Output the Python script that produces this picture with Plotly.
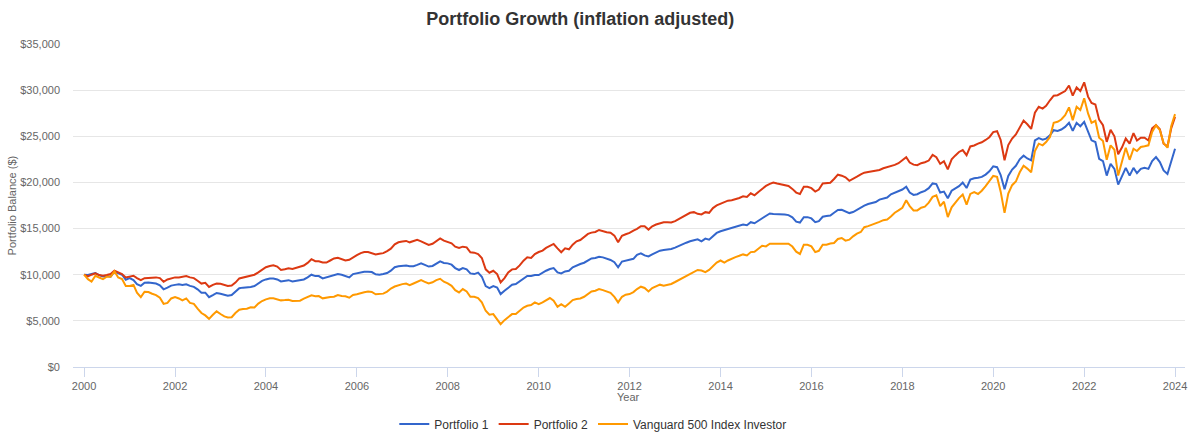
import pandas as pd
import plotly.graph_objects as go

# Monthly balances, start of Jan 2000 through end of Dec 2023 (289 points)
dates = pd.date_range("2000-01-01", periods=289, freq="MS")

portfolio_1 = [
    10000, 9960, 10070, 10180, 9960, 9820, 9850, 9780, 10330, 10180, 10000, 9450,
    9630, 9410, 8970, 8790, 9120, 9150, 9120, 9040, 8860, 8420, 8600, 8820,
    8900, 8970, 8900, 8970, 8790, 8680, 8420, 8050, 8050, 7570, 7790, 8020,
    7940, 7790, 7720, 7790, 8160, 8530, 8600, 8600, 8680, 8770, 9070, 9340,
    9490, 9600, 9600, 9490, 9270, 9340, 9410, 9270, 9340, 9410, 9490, 9710,
    10000, 9850, 9850, 9600, 9710, 9850, 10000, 10070, 10000, 9890, 9710, 10070,
    10150, 10260, 10330, 10330, 10290, 10040, 10000, 10070, 10180, 10440, 10810, 10920,
    10990, 10990, 10920, 10920, 11060, 11240, 11060, 10880, 10950, 11170, 11440, 11270,
    11230, 11090, 10720, 10510, 10720, 10580, 10140, 10070, 10220, 9780, 8770, 8550,
    8770, 8620, 7900, 8260, 8620, 8910, 8990, 9280, 9570, 9860, 9860, 9960,
    9960, 10250, 10430, 10620, 10720, 10250, 10140, 10360, 10430, 10800, 11010, 11160,
    11300, 11520, 11770, 11810, 11950, 11880, 11740, 11600, 11350, 10810, 11430, 11540,
    11610, 11720, 12160, 12310, 12090, 11980, 12200, 12420, 12600, 12670, 12710, 12780,
    12930, 13140, 13250, 13470, 13620, 13730, 13840, 13620, 13910, 13800, 14160, 14530,
    14710, 14820, 14960, 15070, 15180, 15290, 15440, 15360, 15690, 15580, 15870, 16090,
    16420, 16640, 16570, 16570, 16600, 16530, 16460, 16220, 15750, 15650, 16240, 16240,
    16100, 15690, 15800, 16280, 16350, 16420, 16720, 17010, 17040, 16900, 16680, 16790,
    17040, 17260, 17480, 17660, 17770, 17880, 18140, 18250, 18360, 18720, 18870, 19050,
    19230, 19530, 18900, 18650, 18720, 18940, 19090, 19380, 19890, 19820, 18900, 19010,
    18280, 19100, 19300, 19600, 20000, 19400, 20300, 20450, 20500, 20600, 20850, 21200,
    21750, 21650, 20800, 19250, 20700, 21400, 21800, 22500, 22900, 22600, 22400, 24550,
    24800, 24640, 24750, 25110, 25660, 25580, 25730, 26020, 26460, 25580, 26460, 26090,
    26570, 25580, 24560, 24380, 22560, 22310, 20740, 22020, 21470, 19760, 20740, 21580,
    20740, 21580, 21000, 21470, 21580, 21470, 22310, 22740, 22200, 21290, 20920, 22380,
    23650,
]

portfolio_2 = [
    10000, 9820, 10000, 10150, 9960, 9890, 9960, 10070, 10440, 10260, 10070, 9710,
    9780, 9890, 9630, 9410, 9630, 9670, 9710, 9710, 9630, 9230, 9490, 9630,
    9710, 9710, 9780, 9850, 9710, 9630, 9340, 9040, 9120, 8680, 8900, 9040,
    9010, 8900, 8790, 8820, 9150, 9600, 9710, 9740, 9890, 10000, 10250, 10510,
    10810, 10950, 11020, 10880, 10510, 10590, 10700, 10620, 10770, 10880, 10990, 11280,
    11680, 11460, 11460, 11320, 11320, 11540, 11760, 11830, 11720, 11540, 11610, 11900,
    12120, 12340, 12450, 12450, 12340, 12200, 12270, 12340, 12560, 12820, 13290, 13510,
    13590, 13660, 13510, 13660, 13770, 13620, 13440, 13220, 13350, 13640, 13940, 13690,
    13550, 13400, 13040, 12900, 13040, 12970, 12430, 12390, 12240, 11810, 10580, 10220,
    10430, 10070, 9170, 9640, 10250, 10580, 10620, 11010, 11520, 11880, 11810, 12240,
    12460, 12610, 12900, 13150, 13330, 12860, 12430, 12860, 12750, 13260, 13620, 13760,
    14130, 14420, 14560, 14630, 14850, 14710, 14600, 14550, 14240, 13510, 14220, 14380,
    14530, 14780, 14960, 15250, 15250, 14890, 15250, 15440, 15580, 15690, 15690, 15660,
    15800, 16020, 16240, 16490, 16710, 16780, 16600, 16530, 16780, 16710, 17220, 17510,
    17690, 17840, 18020, 18060, 18170, 18310, 18490, 18420, 18820, 18600, 18970, 19300,
    19620, 19840, 19990, 19880, 19800, 19730, 19620, 19300, 18900, 18750, 19530, 19530,
    19380, 19010, 19230, 19890, 19890, 19960, 20370, 20840, 20730, 20550, 20180, 20370,
    20620, 20880, 21060, 21130, 21200, 21280, 21350, 21530, 21640, 21750, 21900, 22080,
    22450, 22740, 22150, 21930, 21860, 22080, 22190, 22370, 22990, 22740, 22010, 22300,
    21420, 22500, 22900, 23300, 23500, 22950, 23900, 24000, 24200, 24350, 24600, 24900,
    25450, 25550, 24600, 22400, 24050, 24750, 25200, 26000, 26700, 26300, 25800, 27550,
    28200, 28000, 28300, 28900, 29400, 29450, 29700, 29900, 30500, 29400, 30300, 29900,
    30850, 29300, 28600, 28450, 26800, 26200, 24400, 25700, 25000, 23050, 23800, 24750,
    24200, 25350, 24550, 24850, 24850, 24550, 25850, 26200, 25750, 24200, 23900, 25850,
    27100,
]

vanguard_500 = [
    10000, 9520, 9265, 9890, 9700, 9520, 9780, 9780, 10370, 9700, 9520, 8790,
    8790, 8900, 8050, 7570, 8160, 8120, 7940, 7790, 7500, 6840, 6950, 7430,
    7570, 7430, 7210, 7430, 6950, 6840, 6320, 5850, 5590, 5220, 5660, 6030,
    5740, 5480, 5370, 5400, 5850, 6210, 6290, 6320, 6480, 6450, 6870, 7150,
    7330, 7440, 7440, 7290, 7220, 7250, 7290, 7150, 7150, 7180, 7400, 7620,
    7770, 7660, 7690, 7440, 7470, 7580, 7620, 7800, 7690, 7660, 7510, 7800,
    7880, 8020, 8100, 8170, 8130, 7880, 7880, 7950, 8170, 8500, 8720, 8870,
    8980, 9050, 8870, 9050, 9270, 9410, 9230, 9050, 9180, 9420, 9560, 9240,
    9060, 8800, 8330, 8080, 8440, 8190, 7610, 7610, 7470, 7000, 6090, 5660,
    5730, 5190, 4640, 5080, 5440, 5730, 5730, 6090, 6450, 6630, 6710, 7000,
    6810, 7000, 7250, 7470, 7180, 6520, 6810, 6520, 6890, 7250, 7360, 7430,
    7610, 7970, 8190, 8260, 8440, 8330, 8190, 8030, 7600, 7000, 7610, 7830,
    7900, 8120, 8450, 8700, 8560, 8190, 8560, 8780, 8920, 8810, 8920, 9000,
    9210, 9430, 9650, 9870, 10010, 10270, 10520, 10450, 10270, 10520, 10890, 11320,
    11540, 11320, 11540, 11760, 11910, 12050, 12200, 12090, 12450, 12490, 12850, 13140,
    13070, 13360, 13360, 13360, 13360, 13430, 13360, 13050, 12500, 12250, 13250, 13250,
    13070, 12450, 12590, 13250, 13250, 13390, 13430, 13870, 13980, 13690, 13800, 14160,
    14450, 14630, 15150, 15260, 15400, 15510, 15730, 15910, 15990, 16310, 16720, 16970,
    17260, 18070, 17440, 16970, 16970, 17260, 17370, 17810, 18430, 18610, 17440, 17920,
    16250, 17300, 17800, 18300, 18700, 17600, 18750, 18950, 18750, 19100, 19600, 20200,
    20700, 20600, 19000, 16700, 18800, 19700, 20100, 21100, 21800, 21500, 21100, 23400,
    24200, 24020, 24380, 24930, 26460, 26570, 26820, 27290, 28130, 26750, 28200, 27840,
    29110, 27480, 26460, 26680, 24850, 24490, 22450, 24020, 23540, 20740, 22380, 23760,
    22450, 23650, 23400, 23840, 23910, 24020, 25470, 26200, 25660, 24270, 23760, 26090,
    27400,
]

series_names = ["Portfolio 1", "Portfolio 2", "Vanguard 500 Index Investor"]
series_values = [portfolio_1, portfolio_2, vanguard_500]
series_colors = ["#3366CC", "#DC3912", "#FF9900"]

FONT = "Liberation Sans, Arial, Helvetica, sans-serif"

fig = go.Figure()
for name, vals, col in zip(series_names, series_values, series_colors):
    fig.add_trace(go.Scatter(
        x=dates, y=vals, name=name, mode="lines",
        line=dict(color=col, width=2),
    ))

fig.update_layout(
    width=1200, height=439,
    margin=dict(l=73, r=15, t=44, b=72, autoexpand=False),
    paper_bgcolor="white", plot_bgcolor="white",
    font=dict(family=FONT, size=11, color="#666666"),
    title=dict(
        text="<b>Portfolio Growth (inflation adjusted)</b>",
        x=0.4835, xanchor="center", xref="container",
        y=0.972, yanchor="top", yref="container",
        font=dict(family=FONT, size=18, color="#333333"),
    ),
    showlegend=True,
    legend=dict(
        orientation="h", x=0.494, xanchor="center", xref="container",
        y=0.034, yanchor="middle", yref="container",
        font=dict(family=FONT, size=12, color="#333333"),
        itemwidth=30, bgcolor="rgba(0,0,0,0)",
    ),
    xaxis=dict(
        type="date", automargin=False,
        range=["1999-10-04", "2024-03-21"],
        tick0="2000-01-01", dtick="M24", tickformat="%Y",
        showgrid=False, zeroline=False,
        showline=True, linecolor="#ccd6eb", linewidth=1,
        ticks="outside", ticklen=9, tickcolor="#ccd6eb", tickwidth=1,
        tickfont=dict(family=FONT, size=11, color="#666666"),
    ),
    yaxis=dict(
        range=[0, 35000], dtick=5000, tick0=0, automargin=False,
        tickprefix="$", tickformat=",d",
        showgrid=True, gridcolor="#e6e6e6", gridwidth=1,
        zeroline=False, showline=False, ticks="",
        ticklabelstandoff=12,
        tickfont=dict(family=FONT, size=11, color="#666666"),
    ),
    annotations=[
        dict(text="Portfolio Balance ($)", xref="paper", yref="paper",
             x=-0.0549, y=0.5, xanchor="center", yanchor="middle",
             textangle=-90, showarrow=False,
             font=dict(family=FONT, size=11, color="#666666")),
        dict(text="Year", xref="paper", yref="paper",
             x=0.4998, y=-0.093, xanchor="center", yanchor="middle",
             showarrow=False,
             font=dict(family=FONT, size=11, color="#666666")),
    ],
)

fig.write_html(
    "out.html",
    config={"displayModeBar": False},
    post_script="document.body.style.margin='0';document.body.style.padding='0';",
)
